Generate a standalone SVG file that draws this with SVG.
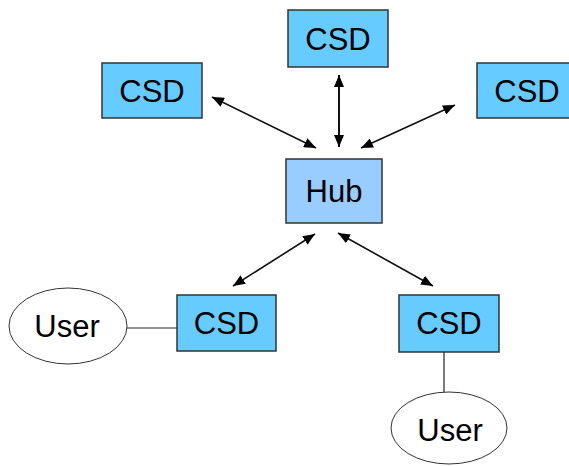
<svg xmlns="http://www.w3.org/2000/svg" width="569" height="466" viewBox="0 0 569 466">
<style>
.csd{fill:#66CCFF;stroke:#333;stroke-width:1.5}
.hub{fill:#99CCFF;stroke:#333;stroke-width:1.5}
.user{fill:#fff;stroke:#333;stroke-width:1}
text{font-family:"Liberation Sans",Arial,sans-serif;font-size:31px;fill:#000;text-anchor:middle}
.conn line{stroke:#111;stroke-width:1.6}
.conn line.plain{stroke:#222;stroke-width:1.2}
</style>
<defs>
<marker id="ah" viewBox="0 0 12 10" refX="12" refY="5" markerWidth="12" markerHeight="10" markerUnits="userSpaceOnUse" orient="auto-start-reverse">
<path d="M0,0 L12,5 L0,10 Z" fill="#000"/>
</marker>
</defs>
<rect width="569" height="466" fill="#fff"/>
<g class="conn">
<line x1="339" y1="75" x2="339" y2="147" marker-start="url(#ah)" marker-end="url(#ah)" style="stroke-width:2"/>
<line x1="212" y1="97" x2="316" y2="148" marker-start="url(#ah)" marker-end="url(#ah)"/>
<line x1="455" y1="105" x2="361" y2="148" marker-start="url(#ah)" marker-end="url(#ah)"/>
<line x1="233" y1="286" x2="315" y2="234" marker-start="url(#ah)" marker-end="url(#ah)"/>
<line x1="338" y1="233" x2="433" y2="286" marker-start="url(#ah)" marker-end="url(#ah)"/>
<line class="plain" x1="127" y1="328" x2="177" y2="328"/>
<line class="plain" x1="444" y1="352" x2="444" y2="392"/>
</g>
<g id="csd-top"><rect class="csd" x="288" y="10" width="100" height="57"/><text x="338" y="50">CSD</text></g>
<g id="csd-left"><rect class="csd" x="102" y="63" width="100" height="55"/><text x="152" y="102">CSD</text></g>
<g id="csd-right"><rect class="csd" x="477" y="63" width="100" height="55"/><text x="527" y="102">CSD</text></g>
<g id="hub"><rect class="hub" x="286" y="159" width="96" height="64"/><text x="334" y="202">Hub</text></g>
<g id="csd-bl"><rect class="csd" x="177" y="295" width="99" height="56"/><text x="226.5" y="334">CSD</text></g>
<g id="csd-br"><rect class="csd" x="399" y="295" width="100" height="57"/><text x="449" y="334">CSD</text></g>
<g id="user-left"><ellipse class="user" cx="68" cy="326" rx="59" ry="38"/><text x="67" y="337">User</text></g>
<g id="user-right"><ellipse class="user" cx="449" cy="428" rx="58" ry="36"/><text x="450" y="441">User</text></g>
</svg>
